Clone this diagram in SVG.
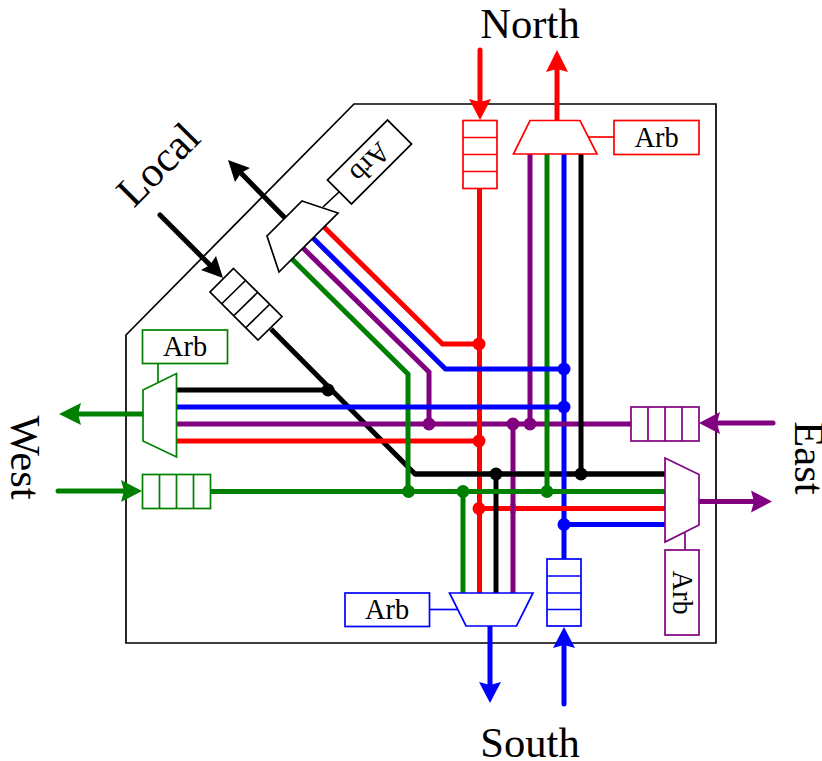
<svg xmlns="http://www.w3.org/2000/svg" width="822" height="761" viewBox="0 0 822 761">
<style>
text{font-family:"Liberation Serif","Times New Roman",serif;fill:#000;text-anchor:middle}
.big{font-size:42.6px}
.arb{font-size:28.4px}
.box{fill:#fff;stroke-width:1.7}
.w{fill:none;stroke-width:5;stroke-linejoin:miter}
.thin{fill:none;stroke-width:1.7}
.r{stroke:#f00}.g{stroke:#008000}.b{stroke:#00f}.p{stroke:#800080}.k{stroke:#000}
.fr{fill:#f00}.fg{fill:#008000}.fb{fill:#00f}.fp{fill:#800080}.fk{fill:#000}
</style>
<rect width="822" height="761" fill="#fff"/>
<polygon id="router" points="354,104 716,104 716,643 126,643 126,335" fill="none" stroke="#000" stroke-width="1.7"/>
<g id="connectors">
<path class="w k" d="M271,329L415,474H665"/>
<path class="w k" d="M177,390H328"/>
<path class="w r" d="M479.500,188V593"/>
<path class="w r" d="M324,227L442.500,344H479"/>
<path class="w p" d="M513,424V593"/>
<path class="w p" d="M530,154V424"/>
<path class="w p" d="M303,248L429,372V424"/>
<path class="w k" d="M415,474H665"/>
<path class="w b" d="M564,154V559"/>
<path class="w b" d="M564,524.500H665"/>
<path class="w p" d="M177,424H631"/>
<path class="w k" d="M581,154V474"/>
<path class="w r" d="M177,441H479"/>
<path class="w r" d="M479,508.500H665"/>
<path class="w k" d="M496,474V593"/>
<path class="w g" d="M292,259L408,374V491"/>
<path class="w g" d="M547,154V491"/>
<path class="w g" d="M463,491V593"/>
<path class="w g" d="M211,491.500H665"/>
<path class="w b" d="M313,238L445.500,369H564"/>
<path class="w b" d="M177,407H564"/>
<path class="w r" d="M479.500,420V428"/>
<path class="w p" d="M513,504V513"/>
<g class="fr"><circle cx="479" cy="344" r="6.500"/><circle cx="479" cy="441" r="6.500"/><circle cx="479" cy="508.500" r="6.500"/></g>
<g class="fk"><circle cx="328" cy="390" r="6.500"/><circle cx="496" cy="474" r="6.500"/><circle cx="581" cy="474" r="6.500"/></g>
<g class="fg"><circle cx="408.500" cy="491.500" r="6.500"/><circle cx="463" cy="491.500" r="6.500"/><circle cx="547" cy="491.500" r="6.500"/></g>
<g class="fb"><circle cx="564" cy="369" r="6.500"/><circle cx="564" cy="407" r="6.500"/><circle cx="564" cy="524.500" r="6.500"/></g>
<g class="fp"><circle cx="429" cy="424" r="6.500"/><circle cx="513" cy="424" r="6.500"/><circle cx="530" cy="424" r="6.500"/></g>
<path class="w r" stroke-linecap="round" d="M480,50V102"/>
<polygon class="fr" points="480,120 469,99 480,102 491,99"/>
<path class="w r" d="M557,120V68"/>
<polygon class="fr" points="557,50 546,72 557,69 568,72"/>
<path class="w g" d="M143,414H78"/>
<polygon class="fg" points="59,414 81,403 78,414 81,425"/>
<path class="w g" stroke-linecap="round" d="M58,491H124"/>
<polygon class="fg" points="142,491 121,480 124,491 121,502"/>
<path class="w b" d="M490,626V686"/>
<polygon class="fb" points="490,703 479,682 490,685 501,682"/>
<path class="w b" stroke-linecap="round" d="M564,704V646"/>
<polygon class="fb" points="564,627 553,648 564,645 575,648"/>
<path class="w p" stroke-linecap="round" d="M773,423H717"/>
<polygon class="fp" points="699,423 720,412 717,423 720,434"/>
<path class="w p" d="M699,501.500H754"/>
<polygon class="fp" points="772,501.500 751,490.500 754,501.500 751,512.500"/>
<path class="w k" stroke-linecap="round" d="M160,215L210,265"/>
<polygon class="fk" points="223,278 201,270 210,265 216,256"/>
<path class="w k" d="M285,218L240,172"/>
<polygon class="fk" points="228,160 250,168 241,173 235,182"/>
</g>
<g id="north-buffer"><rect class="box r" x="463" y="120.500" width="34" height="68"/><path class="thin r" d="M463,137.500H497M463,154.500H497M463,171.500H497"/></g>
<g id="north-mux"><polygon class="box r" points="530,120.500 580,120.500 597,154 513.500,154"/></g>
<g id="north-arb"><path class="thin r" d="M589,137H614"/><rect class="box r" x="614" y="120.500" width="85" height="34"/><text class="arb" x="656.500" y="146.500">Arb</text></g>
<g id="west-buffer"><rect class="box g" x="142.500" y="474.500" width="68" height="34"/><path class="thin g" d="M159.500,474.500V508.500M176.500,474.500V508.500M193.500,474.500V508.500"/></g>
<g id="west-mux"><polygon class="box g" points="143,390 176.500,373.500 176.500,457 143,441"/></g>
<g id="west-arb"><path class="thin g" d="M158,363V382"/><rect class="box g" x="142.500" y="330" width="85" height="33.500"/><text class="arb" x="185" y="355.500">Arb</text></g>
<g id="south-buffer"><rect class="box b" x="547" y="559" width="34" height="67"/><path class="thin b" d="M547,576H581M547,593H581M547,609.500H581"/></g>
<g id="south-mux"><polygon class="box b" points="449.500,593 533,593 516.500,626 466,626"/></g>
<g id="south-arb"><path class="thin b" d="M429,609.500H458"/><rect class="box b" x="345" y="593" width="84.500" height="33.500"/><text class="arb" x="387" y="618.500">Arb</text></g>
<g id="east-buffer"><rect class="box p" x="631" y="407" width="68" height="34"/><path class="thin p" d="M648,407V441M665,407V441M682,407V441"/></g>
<g id="east-mux"><polygon class="box p" points="665,458 699,474.500 699,525 665,542"/></g>
<g id="east-arb"><path class="thin p" d="M685,533V550"/><rect class="box p" x="665" y="550" width="34" height="85"/><text class="arb" transform="translate(672.500,592.500) rotate(90)">Arb</text></g>
<g id="local-buffer"><polygon class="box k" points="233.500,268.500 282,316.500 258,340 210,292"/><path class="thin k" d="M245.500,280.500L221.500,304M257.500,292.500L233.500,316M269.500,304.500L245.500,328"/></g>
<g id="local-mux"><polygon class="box k" points="302,201 338,213 279,272 267,236"/></g>
<g id="local-arb"><path class="thin k" d="M323,207L339,192"/><rect class="box k" x="-42.500" y="-17" width="85" height="34" transform="translate(369.500,162) rotate(135)"/><text class="arb" transform="translate(363.500,156) rotate(135)">Arb</text></g>
<text id="label-north" class="big" x="530" y="38">North</text>
<text id="label-south" class="big" x="530" y="757">South</text>
<text id="label-west" class="big" transform="translate(10.500,457.500) rotate(90)">West</text>
<text id="label-east" class="big" transform="translate(794.500,458) rotate(90)">East</text>
<text id="label-local" class="big" transform="translate(168,174.500) rotate(-45)">Local</text>
</svg>
